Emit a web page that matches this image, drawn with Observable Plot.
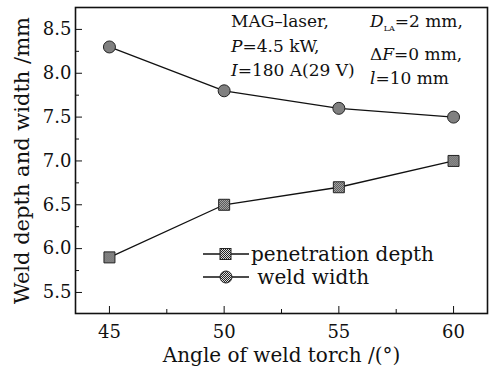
<!DOCTYPE html>
<html><head><meta charset="utf-8">
<script src="https://cdn.jsdelivr.net/npm/d3@7"></script>
<script src="https://cdn.jsdelivr.net/npm/@observablehq/plot@0.6"></script>
<style>
body{margin:0;background:#fff}
#wrap{position:relative;width:491px;height:372px;font-family:"DejaVu Serif",serif;color:#111}
#wrap svg, #wrap svg text{font-family:"DejaVu Serif",serif}
.ann{position:absolute;font-size:17px;line-height:24.5px;white-space:nowrap}
.leg{position:absolute;font-size:20px;white-space:nowrap;line-height:26px}
</style>
</head><body><div id="wrap"></div>
<script>
const angles = [45, 50, 55, 60];
const depth = [5.9, 6.5, 6.7, 7.0];
const widthVals = [8.3, 7.8, 7.6, 7.5];
const xTicks = [45, 50, 55, 60];
const xMinor = [47.5, 52.5, 57.5];
const yTicks = [5.5, 6.0, 6.5, 7.0, 7.5, 8.0, 8.5];
const yMinor = [5.75, 6.25, 6.75, 7.25, 7.75, 8.25];
const seriesNames = ["penetration depth", "weld width"];

const depthData = angles.map((a, i) => ({angle: a, value: depth[i]}));
const widthData = angles.map((a, i) => ({angle: a, value: widthVals[i]}));

const chart = Plot.plot({
  width: 491, height: 372,
  marginLeft: 75, marginRight: 4, marginTop: 7, marginBottom: 59,
  style: "font-family: 'DejaVu Serif', serif; font-size: 17px; color: #111; background: white;",
  x: {domain: [43.52, 61.48]},
  y: {domain: [5.26, 8.75]},
  marks: [
    Plot.axisX(xTicks, {tickSize: -7, tickPadding: 19, fontSize: 18, label: null}),
    Plot.axisX(xMinor, {tickSize: -4, tickFormat: () => "", label: null}),
    Plot.axisY(yTicks, {tickSize: -7, tickPadding: 11, fontSize: 18, tickFormat: d => d.toFixed(1), label: null}),
    Plot.axisY(yMinor, {tickSize: -4, tickFormat: () => "", label: null}),
    Plot.text(["Angle of weld torch /(°)"], {frameAnchor: "bottom", dy: 48, fontSize: 20, fill: "#111"}),
    Plot.text(["Weld depth and width /mm"], {frameAnchor: "left", dx: -53, rotate: -90, textAnchor: "middle", fontSize: 21, fill: "#111"}),
    Plot.frame({stroke: "#111", strokeWidth: 1.6}),
    Plot.line(widthData, {x: "angle", y: "value", stroke: "#111", strokeWidth: 1.3}),
    Plot.line(depthData, {x: "angle", y: "value", stroke: "#111", strokeWidth: 1.3}),
    Plot.dot(widthData, {x: "angle", y: "value", r: 6, fill: "url(#hatch)", stroke: "#222", strokeWidth: 1}),
    Plot.dot(depthData, {x: "angle", y: "value", symbol: "square", r: 6.2, fill: "url(#hatch)", stroke: "#222", strokeWidth: 1})
  ]
});

// hatch pattern
const svg = d3.select(chart);
const defs = svg.insert("defs", ":first-child");
const pat = defs.append("pattern").attr("id", "hatch").attr("width", 2).attr("height", 2).attr("patternUnits", "userSpaceOnUse");
pat.append("rect").attr("width", 2).attr("height", 2).attr("fill", "#ddd");
pat.append("rect").attr("x", 0).attr("y", 0).attr("width", 1).attr("height", 1).attr("fill", "#222");
pat.append("rect").attr("x", 1).attr("y", 1).attr("width", 1).attr("height", 1).attr("fill", "#222");

const wrap = document.getElementById("wrap");
wrap.appendChild(chart);

// annotation
const a1 = document.createElement("div");
a1.className = "ann"; a1.style.left = "231px"; a1.style.top = "9px";
a1.innerHTML = "MAG–laser,<br><i>P</i>=4.5 kW,<br><i>I</i>=180 A(29 V)";
wrap.appendChild(a1);
const a2 = document.createElement("div");
a2.className = "ann"; a2.style.left = "370px"; a2.style.top = "9px";
a2.innerHTML = "<i>D</i><sub style='font-size:8px'>LA</sub>=2 mm,<br>Δ<i>F</i>=0 mm,<br><i>l</i>=10 mm";
wrap.appendChild(a2);

// legend
function legendRow(top, label, shape) {
  const d = document.createElement("div");
  d.className = "leg"; d.style.left = "203px"; d.style.top = (top - 13) + "px";
  const mk = shape === "square"
    ? "<rect x='17' y='7.5' width='11' height='11' fill='url(#hatch)' stroke='#222'/>"
    : "<circle cx='23' cy='13' r='6' fill='url(#hatch)' stroke='#222'/>";
  d.innerHTML = "<svg width='48' height='26' style='vertical-align:top'><line x1='0' x2='46' y1='13' y2='13' stroke='#111' stroke-width='1.3'/>" + mk + "</svg><span style='vertical-align:top'>" + label + "</span>";
  wrap.appendChild(d);
}
legendRow(254, seriesNames[0], "square");
legendRow(277, "\u00a0" + seriesNames[1], "circle");
</script>
</body></html>
